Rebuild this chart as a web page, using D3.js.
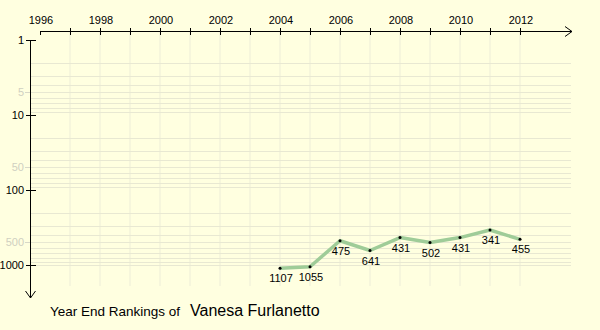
<!DOCTYPE html>
<html>
<head>
<meta charset="utf-8">
<style>
  body { margin: 0; background: #ffffe0; }
  svg { display: block; font-family: 'Liberation Sans', Arial, sans-serif; }
</style>
</head>
<body>
<svg width="600" height="330"></svg>
<script src="https://d3js.org/d3.v7.min.js"></script>
<script>
  // data
  let years = [2004, 2005, 2006, 2007, 2008, 2009, 2010, 2011, 2012];
  let ranks = [1107, 1055, 475, 641, 431, 502, 431, 341, 455];
  let yearTicks = d3.range(1996, 2013);
  let yearLabels = [1996, 1998, 2000, 2002, 2004, 2006, 2008, 2010, 2012];
  let majorRanks = [1, 10, 100, 1000];
  let midRanks = [5, 50, 500];
  let gridRanks = [2, 3, 4, 5, 6, 7, 8, 9, 20, 30, 40, 50, 60, 70, 80, 90,
                   200, 300, 400, 500, 600, 700, 800, 900, 1000];
  let player = "Vanesa Furlanetto";

  let svg = d3.select("svg");
  let x = d3.scaleLinear().domain([1996, 2012]).range([40, 520]);
  let y = d3.scaleLog().domain([1, 1000]).range([40, 265]);
  let axisY = 31, axisX = 30;

  // grid
  svg.append("g")
    .selectAll("line")
    .data(yearTicks.slice(1))
    .join("line")
    .attr("x1", d => x(d)).attr("x2", d => x(d))
    .attr("y1", axisY).attr("y2", 286)
    .attr("stroke", "#ededd8").attr("stroke-width", 1);

  svg.append("g")
    .selectAll("line")
    .data(gridRanks)
    .join("line")
    .attr("x1", axisX).attr("x2", 571)
    .attr("y1", d => Math.round(y(d)) + 0.5).attr("y2", d => Math.round(y(d)) + 0.5)
    .attr("stroke", "#e8e8d2").attr("stroke-width", 1);

  // x axis on top
  let gx = svg.append("g").attr("stroke", "#000");
  gx.append("line").attr("x1", 40).attr("x2", 572).attr("y1", axisY + 0.5).attr("y2", axisY + 0.5);
  gx.append("path").attr("d", `M565,${axisY - 4.5}L572,${axisY + 0.5}L565,${axisY + 5.5}`).attr("fill", "none");
  gx.selectAll(".t").data(yearTicks).join("line")
    .attr("x1", d => x(d) + 0.5).attr("x2", d => x(d) + 0.5)
    .attr("y1", d => d == 1996 ? axisY : axisY - 3).attr("y2", axisY + 4);
  svg.append("g").selectAll("text").data(yearLabels).join("text")
    .attr("x", d => x(d) + 1).attr("y", 24)
    .attr("text-anchor", "middle").attr("font-size", 11).attr("fill", "#000")
    .text(d => d);

  // y axis on left
  let gy = svg.append("g").attr("stroke", "#000");
  gy.append("line").attr("x1", axisX + 0.5).attr("x2", axisX + 0.5).attr("y1", 40).attr("y2", 298);
  gy.append("path").attr("d", `M${axisX - 4.5},291L${axisX + 0.5},298L${axisX + 5.5},291`).attr("fill", "none");
  gy.selectAll(".t").data(majorRanks).join("line")
    .attr("x1", axisX - 4).attr("x2", axisX + 6)
    .attr("y1", d => Math.round(y(d)) + 0.5).attr("y2", d => Math.round(y(d)) + 0.5);
  svg.append("g").selectAll("line").data(midRanks).join("line")
    .attr("x1", axisX - 5).attr("x2", axisX)
    .attr("y1", d => Math.round(y(d)) + 0.5).attr("y2", d => Math.round(y(d)) + 0.5)
    .attr("stroke", "#d8d8c8");
  svg.append("g").selectAll("text").data(majorRanks.concat(midRanks)).join("text")
    .attr("x", 24).attr("y", d => y(d) + 4)
    .attr("text-anchor", "end").attr("font-size", 11)
    .attr("fill", d => majorRanks.includes(d) ? "#000" : "#d0d0c0")
    .text(d => d);

  // ranking line
  let pts = years.map((d, i) => [d, ranks[i]]);
  svg.append("path")
    .datum(pts)
    .attr("d", d3.line().x(d => x(d[0])).y(d => y(d[1])))
    .attr("fill", "none").attr("stroke", "#9fcc98").attr("stroke-width", 3.5)
    .attr("stroke-linejoin", "round");

  svg.append("g").selectAll("circle").data(pts).join("circle")
    .attr("cx", d => x(d[0])).attr("cy", d => y(d[1])).attr("r", 1.5)
    .attr("fill", "#000");

  svg.append("g").selectAll("text").data(pts).join("text")
    .attr("x", d => x(d[0]) + 1).attr("y", d => y(d[1]) + 14)
    .attr("text-anchor", "middle").attr("font-size", 11).attr("fill", "#000")
    .text(d => d[1]);

  // title
  svg.append("text").attr("x", 50).attr("y", 316).attr("font-size", 13.5)
    .attr("fill", "#000").text("Year End Rankings of");
  svg.append("text").attr("x", 190).attr("y", 316).attr("font-size", 16)
    .attr("fill", "#000").text(player);
</script>
</body>
</html>
